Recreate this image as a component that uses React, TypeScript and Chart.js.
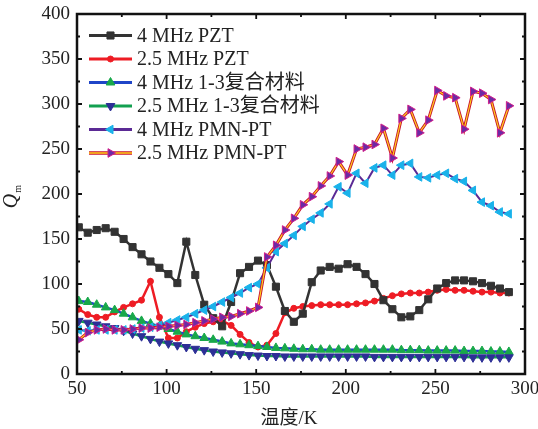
import React, { useEffect, useRef } from 'react';
import { Chart, registerables } from 'chart.js';

Chart.register(...registerables);

// ---- data ----
const temperatures = [51, 56, 61, 66, 71, 76, 81, 86, 91, 96, 101, 106, 111, 116, 121, 126, 131, 136, 141, 146, 151, 156, 161, 166, 171, 176, 181, 186, 191, 196, 201, 206, 211, 216, 221, 226, 231, 236, 241, 246, 251, 256, 261, 266, 271, 276, 281, 286, 291];

const pzt4 = [163, 157, 160, 162, 158, 150, 141, 133, 125, 118, 111, 101, 147, 110, 77, 62, 53, 80, 112, 119, 126, 121, 97, 70, 58, 67, 102, 115, 119, 117, 122, 119, 111, 100, 82, 72, 63, 64, 71, 83, 95, 101, 104, 104, 103, 101, 98, 95, 91];
const pzt25 = [72, 66, 63, 63, 69, 74, 78, 82, 103, 63, 40, 40, 47, 52, 56, 58, 59, 54, 44, 35, 30, 32, 45, 68, 73, 75, 76, 77, 77, 77, 77, 78, 79, 81, 84, 87, 89, 90, 90, 91, 93, 94, 93, 93, 92, 91, 91, 90, 90];
const comp4 = [81, 80, 77, 74, 71, 67, 63, 59, 56, 53, 50, 47, 44, 42, 40, 38, 36, 34, 33, 32, 31, 30, 29, 28.5, 28, 27.5, 27.5, 27, 27, 27, 27, 27, 27, 27, 27, 27, 26.5, 26.5, 26.5, 26, 26, 26, 26, 25.5, 25.5, 25.5, 25, 25, 24.5];
const comp25 = [59, 57, 55, 53, 51, 48, 45, 42, 39, 36, 34, 32, 30, 28, 26.5, 25, 24, 23, 22, 21, 20.5, 20, 20, 19.5, 19.5, 19.5, 19.5, 19.5, 19.5, 19.5, 19.5, 19.5, 19.5, 19, 19, 19, 19, 19, 19, 19, 19, 19, 19, 19, 18.5, 18.5, 18.5, 18.5, 18.5];
const pmn4 = [49, 48, 49, 49, 49, 49, 50, 51, 52, 54, 57, 60, 63, 67, 71, 75, 80, 85, 90, 96, 100, 118, 136, 145, 154, 164, 172, 179, 189, 208, 201, 223, 212, 229, 232, 221, 232, 234, 219, 218, 221, 223, 217, 214, 204, 191, 187, 180, 178];
const pmn25 = [38, 46, 49, 50, 49, 49, 50, 51, 51, 52, 53, 54, 55, 57, 59, 61, 63, 64, 67, 70, 74, 130, 143, 160, 173, 188, 197, 209, 220, 236, 221, 250, 252, 255, 273, 240, 284, 294, 268, 282, 315, 309, 307, 272, 314, 312, 305, 268, 298];

const seriesLabels = ['4 MHz PZT', '2.5 MHz PZT', '4 MHz 1-3复合材料', '2.5 MHz 1-3复合材料', '4 MHz PMN-PT', '2.5 MHz PMN-PT'];
const xTicks = [50, 100, 150, 200, 250, 300];
const yTicks = [0, 50, 100, 150, 200, 250, 300, 350, 400];

// ---- styles ----
const FONT = '"Liberation Serif", "Times New Roman", "Noto Sans CJK SC", serif';

type Style = {
  line: string; width: number; edge?: string; edgeWidth?: number;
  shape: 'rect' | 'circle' | 'triangle'; rot: number; r: number;
  fill: string; stroke: string;
};

const styles: Style[] = [
  { line: '#333333', width: 2.5, shape: 'rect', rot: 0, r: 5, fill: '#333333', stroke: '#333333' },
  { line: '#ee1c24', width: 2.5, shape: 'circle', rot: 0, r: 3, fill: '#ee1c24', stroke: '#ee1c24' },
  { line: '#1f45c8', width: 2.5, shape: 'triangle', rot: 0, r: 5, fill: '#18a84a', stroke: '#18a84a' },
  { line: '#12a050', width: 2.5, shape: 'triangle', rot: 180, r: 5, fill: '#2d2f96', stroke: '#2d2f96' },
  { line: '#5b2a95', width: 2, shape: 'triangle', rot: 270, r: 5, fill: '#19b2ea', stroke: '#19b2ea' },
  { line: '#ffd21a', width: 1.2, edge: '#c8102e', edgeWidth: 3, shape: 'triangle', rot: 90, r: 5, fill: '#6c2aa4', stroke: '#d01f8c' },
];

const seriesData = [pzt4, pzt25, comp4, comp25, pmn4, pmn25];

function drawMarker(ctx: CanvasRenderingContext2D, s: Style, x: number, y: number) {
  ctx.save();
  ctx.fillStyle = s.fill;
  ctx.strokeStyle = s.stroke;
  ctx.lineWidth = 1;
  ctx.beginPath();
  if (s.shape === 'rect') {
    const h = s.r * Math.SQRT1_2;
    ctx.rect(x - h, y - h, 2 * h, 2 * h);
  } else if (s.shape === 'circle') {
    ctx.arc(x, y, s.r, 0, Math.PI * 2);
  } else {
    let rad = (s.rot * Math.PI) / 180;
    ctx.moveTo(x + Math.sin(rad) * s.r, y - Math.cos(rad) * s.r);
    rad += (2 * Math.PI) / 3;
    ctx.lineTo(x + Math.sin(rad) * s.r, y - Math.cos(rad) * s.r);
    rad += (2 * Math.PI) / 3;
    ctx.lineTo(x + Math.sin(rad) * s.r, y - Math.cos(rad) * s.r);
    ctx.closePath();
  }
  ctx.fill();
  ctx.stroke();
  ctx.restore();
}

const decorPlugin = {
  id: 'decor',
  afterDatasetsDraw(chart: any) {
    const ctx: CanvasRenderingContext2D = chart.ctx;
    const { left, right, top, bottom } = chart.chartArea;
    const xs = chart.scales.x;
    const ys = chart.scales.y;
    ctx.save();
    // frame
    ctx.strokeStyle = '#111';
    ctx.lineWidth = 2.5;
    ctx.strokeRect(left, top, right - left, bottom - top);
    // inward ticks
    ctx.lineWidth = 1.8;
    ctx.beginPath();
    for (let v = 50; v <= 300; v += 25) {
      const px = xs.getPixelForValue(v);
      const len = v % 50 === 0 ? 5 : 3;
      ctx.moveTo(px, bottom); ctx.lineTo(px, bottom - len);
      ctx.moveTo(px, top); ctx.lineTo(px, top + len);
    }
    for (let v = 0; v <= 400; v += 25) {
      const py = ys.getPixelForValue(v);
      const len = v % 50 === 0 ? 5 : 3;
      ctx.moveTo(left, py); ctx.lineTo(left + len, py);
      ctx.moveTo(right, py); ctx.lineTo(right - len, py);
    }
    ctx.stroke();

    // legend
    const rowY0 = 35.5, rowStep = 23.5, lx1 = 89, lx2 = 132, tx = 137;
    ctx.font = `20px ${FONT}`;
    ctx.textBaseline = 'middle';
    ctx.textAlign = 'left';
    seriesLabels.forEach((label, i) => {
      const s = styles[i];
      const y = rowY0 + i * rowStep;
      if (s.edge) {
        ctx.strokeStyle = s.edge;
        ctx.lineWidth = (s.edgeWidth || 3) + 0.5;
        ctx.beginPath(); ctx.moveTo(lx1, y); ctx.lineTo(lx2, y); ctx.stroke();
      }
      ctx.strokeStyle = s.line;
      ctx.lineWidth = s.edge ? s.width + 0.5 : 3;
      ctx.beginPath(); ctx.moveTo(lx1, y); ctx.lineTo(lx2, y); ctx.stroke();
      drawMarker(ctx, s, (lx1 + lx2) / 2, y);
      ctx.fillStyle = '#222';
      ctx.fillText(label, tx, y + 1);
    });

    // axis titles
    ctx.fillStyle = '#222';
    ctx.textAlign = 'center';
    ctx.textBaseline = 'alphabetic';
    ctx.font = `19px ${FONT}`;
    ctx.fillText('温度/K', 289, 424);

    ctx.translate(17, 199);
    ctx.rotate(-Math.PI / 2);
    ctx.textAlign = 'left';
    ctx.font = `italic 20px ${FONT}`;
    const qw = ctx.measureText('Q').width;
    ctx.fillText('Q', -qw / 2 - 2, 0);
    ctx.font = `10px ${FONT}`;
    ctx.fillText('m', qw / 2 - 1, 4);
    ctx.restore();
  },
};

export default function App() {
  const ref = useRef<HTMLCanvasElement | null>(null);
  useEffect(() => {
    if (!ref.current) return;
    const datasets: any[] = [];
    const mk = (i: number) => seriesData[i].map((v, k) => ({ x: temperatures[k], y: v }));
    // draw order: first dataset is drawn on top
    const drawOrder = [5, 4, 3, 2, 0, 1];
    drawOrder.forEach((i) => {
      const s = styles[i];
      datasets.push({
        label: seriesLabels[i],
        data: mk(i),
        borderColor: s.line,
        borderWidth: s.width,
        pointStyle: s.shape,
        rotation: s.rot,
        pointRadius: s.r,
        pointBackgroundColor: s.fill,
        pointBorderColor: s.stroke,
        pointBorderWidth: 1,
        tension: 0,
        fill: false,
      });
      if (s.edge) {
        datasets.push({
          label: seriesLabels[i] + ' edge',
          data: mk(i),
          borderColor: s.edge,
          borderWidth: s.edgeWidth,
          pointRadius: 0,
          tension: 0,
          fill: false,
        });
      }
    });
    const tickFont = { family: FONT, size: 19 };
    const chart = new Chart(ref.current, {
      type: 'line',
      data: { datasets },
      plugins: [decorPlugin],
      options: {
        animation: false,
        responsive: false,
        layout: { padding: { top: 14, right: 13, left: 0, bottom: 0 } },
        plugins: { legend: { display: false }, tooltip: { enabled: false } },
        scales: {
          x: {
            type: 'linear', min: 50, max: 300,
            afterBuildTicks: (s: any) => { s.ticks = xTicks.map((v) => ({ value: v })); },
            ticks: { font: tickFont, color: '#222', padding: 4, maxRotation: 0, autoSkip: false },
            grid: { display: false, drawTicks: false },
            border: { display: false },
            afterFit: (s: any) => { s.height = 55; s.paddingLeft = 0; s.paddingRight = 0; },
          },
          y: {
            type: 'linear', min: 0, max: 400,
            afterBuildTicks: (s: any) => { s.ticks = yTicks.map((v) => ({ value: v })); },
            ticks: { font: tickFont, color: '#222', padding: 7, autoSkip: false },
            grid: { display: false, drawTicks: false },
            border: { display: false },
            afterFit: (s: any) => { s.width = 77; s.paddingTop = 0; s.paddingBottom = 0; },
          },
        },
      } as any,
    });
    return () => chart.destroy();
  }, []);
  return (
    <div style={{ position: 'absolute', left: 0, top: 0, width: 538, height: 429, background: '#fff' }}>
      <canvas ref={ref} width={538} height={429} style={{ width: 538, height: 429, display: 'block' }} />
    </div>
  );
}
